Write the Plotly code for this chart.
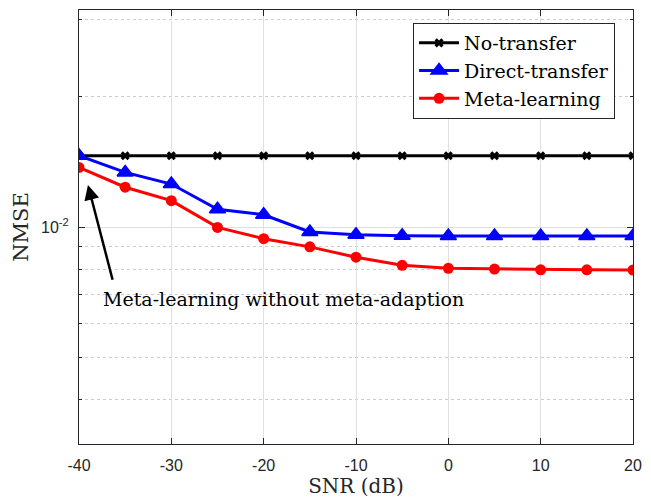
import math
import plotly.graph_objects as go

snr = [-40, -35, -30, -25, -20, -15, -10, -5, 0, 5, 10, 15, 20]
no_transfer = [0.0146] * 13
direct_transfer = [0.0146, 0.01336, 0.01256, 0.01099, 0.01067, 0.00974, 0.00960,
                   0.00955, 0.00954, 0.00954, 0.00954, 0.00954, 0.00954]
meta_learning = [0.01372, 0.01235, 0.01150, 0.00998, 0.00940, 0.00900, 0.00852,
                 0.00816, 0.00803, 0.00800, 0.00797, 0.00797, 0.00796]
x_ticks = [-40, -30, -20, -10, 0, 10, 20]
y_minor = [0.004, 0.005, 0.006, 0.007, 0.008, 0.009, 0.02, 0.03]

serif = "DejaVu Serif, serif"
sans = "Liberation Sans, Arial, sans-serif"
axcol = "#262626"

fig = go.Figure()
fig.add_trace(go.Scatter(x=snr, y=no_transfer, name="No-transfer", mode="lines+markers",
                         line=dict(color="black", width=3),
                         marker=dict(symbol="x", size=8, color="black")))
fig.add_trace(go.Scatter(x=snr, y=direct_transfer, name="Direct-transfer", mode="lines+markers",
                         line=dict(color="#0000ff", width=3),
                         marker=dict(symbol="triangle-up", size=14, color="#0000ff",
                                     line=dict(color="#0000ff", width=1.5))))
fig.add_trace(go.Scatter(x=snr, y=meta_learning, name="Meta-learning", mode="lines+markers",
                         line=dict(color="#ff0000", width=3),
                         marker=dict(symbol="circle", size=11, color="#ff0000")))

# arrow pointing at the first Meta-learning point
fig.add_annotation(x=-39.03, y=math.log10(0.0125), ax=-36.32, ay=-2.125,
                   xref="x", yref="y", axref="x", ayref="y",
                   showarrow=True, arrowhead=2, arrowsize=1.2, arrowwidth=2.5,
                   arrowcolor="black", text="")
fig.add_annotation(x=-17.85, y=-2.166, xref="x", yref="y", showarrow=False,
                   text="Meta-learning without meta-adaption",
                   font=dict(family=serif, size=19, color="black"))

fig.update_layout(
    width=651, height=500,
    margin=dict(l=79, r=18, t=9, b=54),
    plot_bgcolor="white", paper_bgcolor="white",
    showlegend=True,
    legend=dict(x=0.603, y=0.970, xanchor="left", yanchor="top",
                bgcolor="white", bordercolor=axcol, borderwidth=1,
                font=dict(family=serif, size=19, color="black"),
                tracegroupgap=0, itemwidth=40),
)
fig.update_xaxes(range=[-40, 20], tickvals=x_ticks, ticktext=[str(v) for v in x_ticks],
                 showline=True, linecolor=axcol, linewidth=1, mirror="ticks",
                 ticks="inside", ticklen=6, tickcolor=axcol, ticklabelstandoff=7,
                 showgrid=True, gridcolor="#e0e0e0", gridwidth=1, zeroline=False,
                 tickfont=dict(family=sans, size=16, color=axcol),
                 title=dict(text="SNR (dB)", font=dict(family=serif, size=20, color=axcol), standoff=3))
fig.update_yaxes(type="log", range=[-2.5, -1.5], tickvals=[0.01], ticktext=["10<sup>-2</sup>"],
                 showline=True, linecolor=axcol, linewidth=1, mirror="ticks",
                 ticks="inside", ticklen=6, tickcolor=axcol, ticklabelstandoff=6,
                 showgrid=True, gridcolor="#e0e0e0", gridwidth=1, zeroline=False,
                 tickfont=dict(family=sans, size=16, color=axcol),
                 minor=dict(tickvals=y_minor, ticks="inside", ticklen=3, tickcolor=axcol,
                            showgrid=True, gridcolor="#cccccc", griddash="dot", gridwidth=1),
                 title=dict(text="NMSE", font=dict(family=serif, size=21, color=axcol), standoff=6))

fig.write_html("out.html")
